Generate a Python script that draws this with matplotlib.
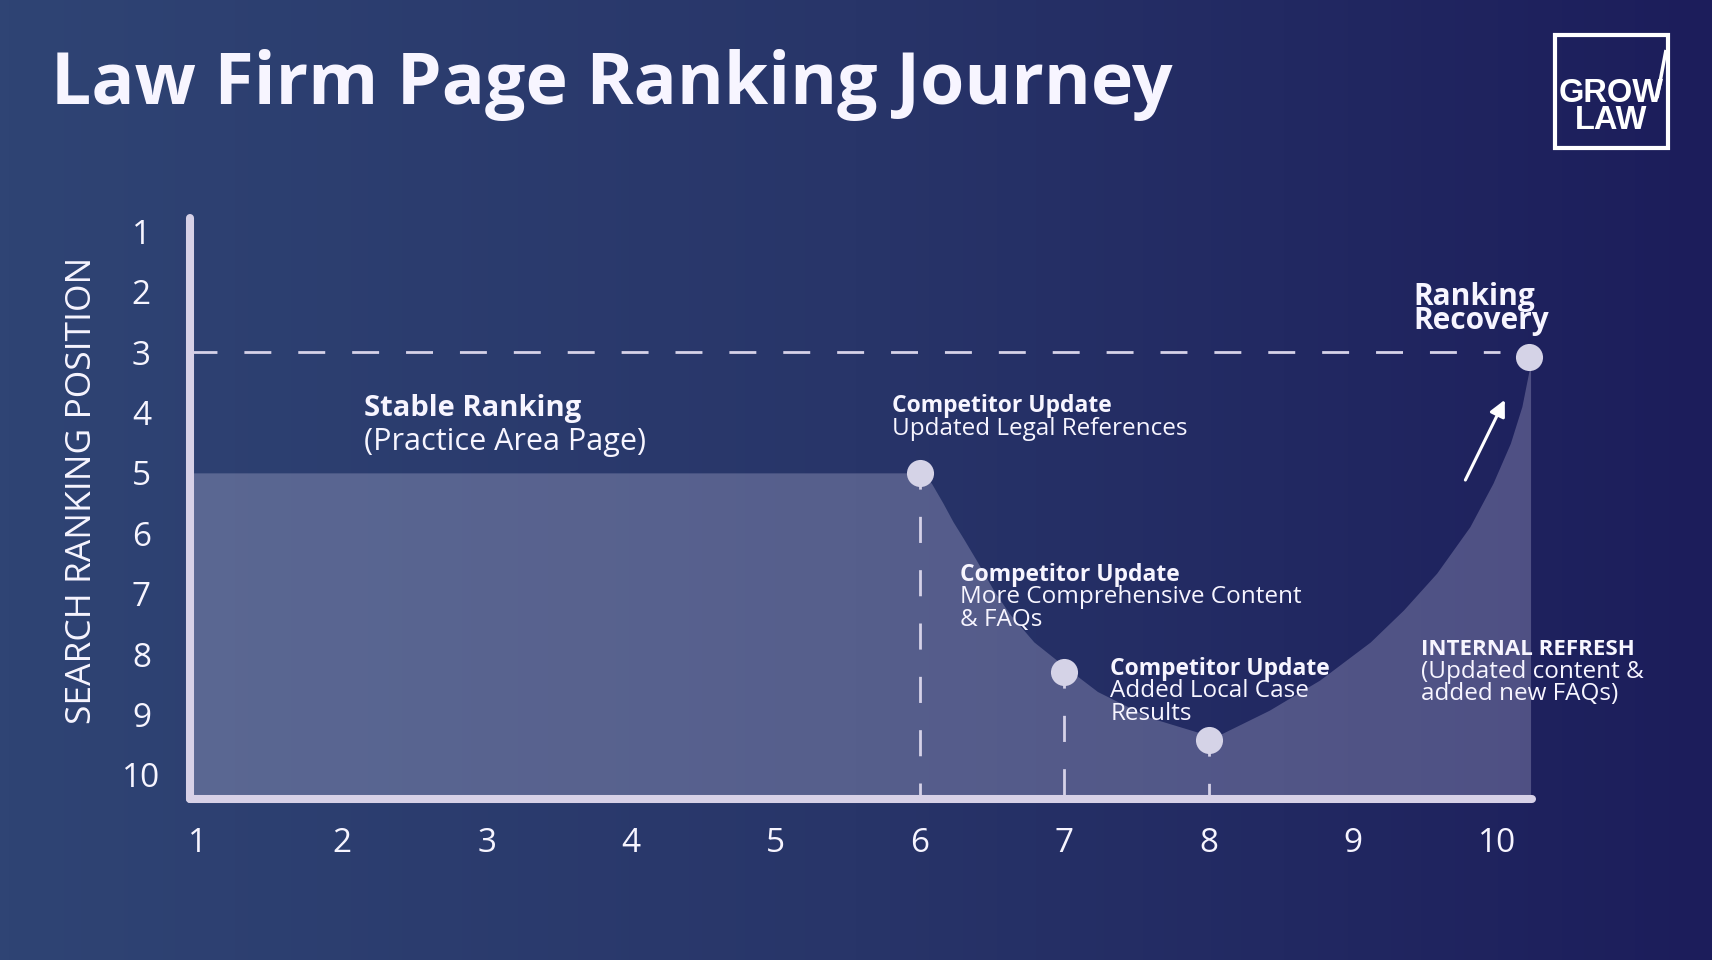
import numpy as np
import matplotlib.pyplot as plt
from matplotlib.colors import LinearSegmentedColormap
from matplotlib.patches import Rectangle

# ranking data (week on x, search position on y)
week_x = [1, 6.0, 6.08, 6.16, 6.23, 6.30, 6.39, 6.51, 6.62, 6.79, 7.0,
          7.23, 7.59, 7.92, 8.08, 8.42, 8.77, 9.12, 9.35, 9.58, 9.81,
          9.97, 10.09, 10.17, 10.22, 10.23]
rank_y = [5, 5.0, 5.17, 5.50, 5.81, 6.08, 6.44, 6.94, 7.33, 7.80, 8.20,
          8.62, 9.05, 9.29, 9.33, 8.93, 8.43, 7.80, 7.27, 6.66, 5.89,
          5.17, 4.51, 3.90, 3.30, 3.1]

event_x = [6, 7, 8, 10.22]
event_y = [5, 8.3, 9.42, 3.08]
target_rank = 3

x_ticks = list(range(1, 11))
y_ticks = list(range(1, 11))

font = 'Open Sans'
txt = '#f7f5ff'
pale = '#d6d2e8'

fig = plt.figure(figsize=(17.12, 9.6), dpi=100)

# background gradient, also used as a pixel canvas
bg = fig.add_axes([0, 0, 1, 1], zorder=-10)
cmap = LinearSegmentedColormap.from_list('bg', ['#2f4474', '#283569', '#1c1d5b'])
grad = np.tile(np.linspace(0, 1, 400), (50, 1))
bg.imshow(grad, cmap=cmap, aspect='auto', extent=[0, 1712, 960, 0])
bg.set_xlim(0, 1712)
bg.set_ylim(960, 0)
bg.axis('off')

bg.text(51, 104, 'Law Firm Page Ranking Journey', fontsize=51.5, fontweight='bold',
        color=txt, family=font, va='baseline', ha='left')

# logo
bg.add_patch(Rectangle((1555, 35), 113, 113, fill=False, ec='white', lw=3))
bg.plot([1657, 1666], [98, 50], color='white', lw=2.5, solid_capstyle='butt')
bg.text(1664, 129, 'GROW\nLAW', fontsize=23.5, fontweight='bold', color='white',
        family='Liberation Sans', ha='right', va='baseline',
        multialignment='center', linespacing=0.82)

fig.text(82 / 1712, 1 - 490 / 960, 'SEARCH RANKING POSITION', rotation=90,
         fontsize=25.5, color=txt, family=font, ha='center', va='center')

# main chart
ax = fig.add_axes([190 / 1712, 1 - 799 / 960, 1342 / 1712, 581 / 960])
ax.set_facecolor('none')
ax.set_xlim(0.945, 10.24)
ax.set_ylim(10.4, 0.78)

x0 = ax.get_xlim()[0]
ax.fill_between([x0] + week_x, [rank_y[0]] + rank_y, 10.4,
                color='#e2ddf7', alpha=0.25, lw=0, zorder=1)

ax.axhline(target_rank, xmin=0, xmax=0.976, color=pale, lw=2,
           ls=(0, (9.7, 9.7)), zorder=2)

for ex, ey in zip(event_x[:3], event_y[:3]):
    ax.plot([ex, ex], [ey, 10.4], color=pale, lw=2,
            ls=(3.6, (9.4, 9.8)), zorder=2)

ax.plot(event_x, event_y, 'o', ms=19.5, color='#d5d3e7', mec='none',
        zorder=5, clip_on=False)

ax.annotate('', xy=(10.06, 3.75), xytext=(9.77, 5.16),
            arrowprops=dict(arrowstyle='-|>', color='white', lw=2.2,
                            mutation_scale=24))

for side in ['top', 'right']:
    ax.spines[side].set_visible(False)
for side in ['left', 'bottom']:
    ax.spines[side].set_color('#d7d1e7')
    ax.spines[side].set_linewidth(5.8)
    ax.spines[side].set_capstyle('round')

ax.set_xticks(x_ticks)
ax.set_yticks(y_ticks)
ax.tick_params(length=0, labelsize=24, labelcolor=txt)
ax.tick_params(axis='y', pad=35)
ax.tick_params(axis='x', pad=20)
for lab in ax.get_yticklabels():
    lab.set_family(font)
    lab.set_ha('center')
for lab in ax.get_xticklabels():
    lab.set_family(font)

def note(x, y, head, lines, hsize, size, gap):
    ax.text(x, y, head, fontsize=hsize, fontweight='bold', color=txt,
            family=font, va='baseline', clip_on=False)
    for i, s in enumerate(lines):
        ax.text(x, y + gap * (i + 1), s, fontsize=size, color=txt,
                family=font, va='baseline', clip_on=False)

note(2.15, 4.06, 'Stable Ranking', ['(Practice Area Page)'], 21, 22, 0.56)
note(5.81, 3.985, 'Competitor Update', ['Updated Legal References'], 16.5, 17.5, 0.38)
note(6.28, 6.787, 'Competitor Update', ['More Comprehensive Content', '& FAQs'], 16.5, 17.5, 0.375)
note(7.32, 8.34, 'Competitor Update', ['Added Local Case', 'Results'], 16.5, 17.5, 0.375)
note(9.47, 8.015, 'INTERNAL REFRESH', ['(Updated content &', 'added new FAQs)'], 16, 17.5, 0.375)
ax.text(9.42, 2.61, 'Ranking\nRecovery', fontsize=21.5, fontweight='bold', color=txt,
        family=font, va='baseline', clip_on=False, linespacing=0.72)

fig.savefig('out.png', dpi=100)
